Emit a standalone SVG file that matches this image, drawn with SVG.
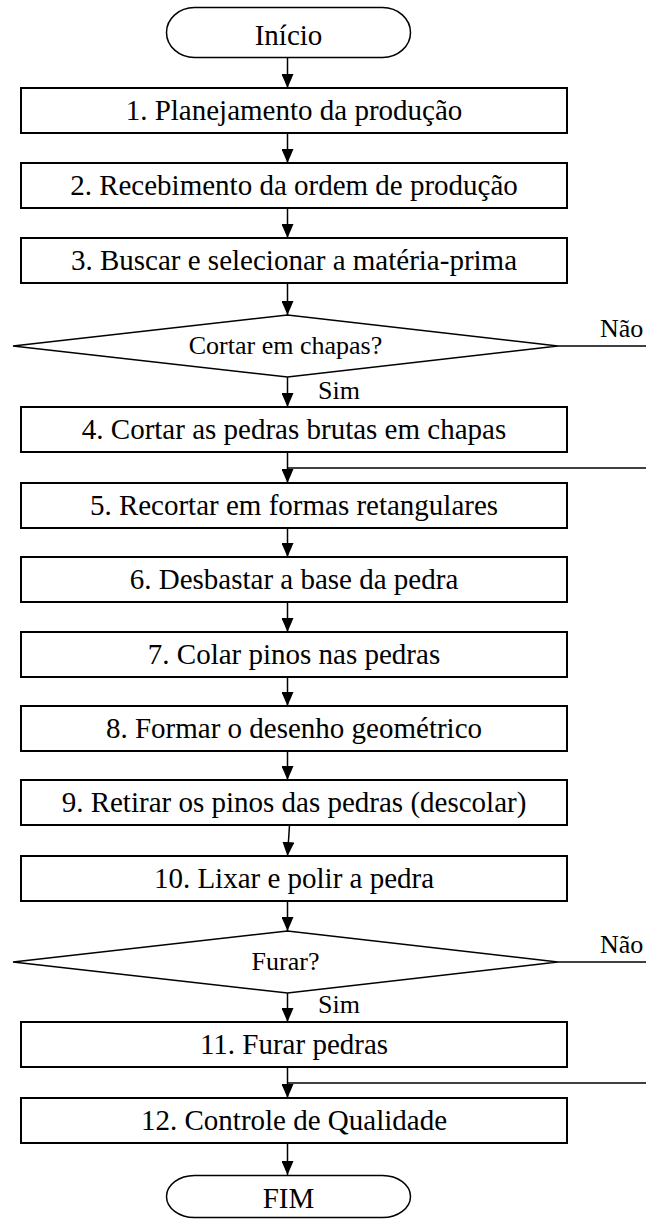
<svg xmlns="http://www.w3.org/2000/svg" width="646" height="1219" viewBox="0 0 646 1219" font-family="'Liberation Serif', 'Times New Roman', 'DejaVu Serif', serif">
<style>
.box{fill:#fff;stroke:#000;stroke-width:2}
.dia{fill:#fff;stroke:#000;stroke-width:1.5}
.term{fill:#fff;stroke:#000;stroke-width:1.5}
text{font-family:'Liberation Serif','Times New Roman','DejaVu Serif',serif;fill:#000}
.t{font-size:29px;text-anchor:middle}
.s{font-size:26px}
.c{fill:none;stroke:#000;stroke-width:1.5}
</style>
<defs>
<marker id="ah" markerUnits="userSpaceOnUse" markerWidth="14" markerHeight="12" refX="14" refY="6" orient="auto">
<path d="M0,0 L14,6 L0,12 z" fill="#000"/>
</marker>
</defs>
<g id="connectors">
<line class="c" x1="287.5" y1="58" x2="287.5" y2="88" marker-end="url(#ah)"/>
<line class="c" x1="287.5" y1="133" x2="287.5" y2="163" marker-end="url(#ah)"/>
<line class="c" x1="287.5" y1="208" x2="287.5" y2="238" marker-end="url(#ah)"/>
<line class="c" x1="287.5" y1="283" x2="287.5" y2="315" marker-end="url(#ah)"/>
<line class="c" x1="287.5" y1="377" x2="287.5" y2="407" marker-end="url(#ah)"/>
<line class="c" x1="287.5" y1="452" x2="287.5" y2="483" marker-end="url(#ah)"/>
<line class="c" x1="287.5" y1="528" x2="287.5" y2="557" marker-end="url(#ah)"/>
<line class="c" x1="287.5" y1="602" x2="287.5" y2="632" marker-end="url(#ah)"/>
<line class="c" x1="287.5" y1="677" x2="287.5" y2="706" marker-end="url(#ah)"/>
<line class="c" x1="287.5" y1="751" x2="287.5" y2="780" marker-end="url(#ah)"/>
<line class="c" x1="289.5" y1="825" x2="287.5" y2="856" marker-end="url(#ah)"/>
<line class="c" x1="287.5" y1="901" x2="287.5" y2="931" marker-end="url(#ah)"/>
<line class="c" x1="287.5" y1="993" x2="287.5" y2="1022" marker-end="url(#ah)"/>
<line class="c" x1="287.5" y1="1067" x2="287.5" y2="1098" marker-end="url(#ah)"/>
<line class="c" x1="287.5" y1="1143" x2="287.5" y2="1175" marker-end="url(#ah)"/>
<line class="c" x1="558" y1="346" x2="646" y2="346"/>
<line class="c" x1="287.5" y1="468" x2="646" y2="468"/>
<line class="c" x1="558" y1="962" x2="646" y2="962"/>
<line class="c" x1="287.5" y1="1083" x2="646" y2="1083"/>
<text class="s" x="600" y="337">Não</text>
<text class="s" x="318" y="399">Sim</text>
<text class="s" x="600" y="953">Não</text>
<text class="s" x="318" y="1013">Sim</text>
</g>
<g id="inicio"><rect class="term" x="166.5" y="7.5" width="244" height="50" rx="28" ry="25"/><text class="t" x="288.5" y="45">Início</text></g>
<g id="n1"><rect class="box" x="21" y="88" width="546" height="45"/><text class="t" x="294" y="120">1. Planejamento da produção</text></g>
<g id="n2"><rect class="box" x="21" y="163" width="546" height="45"/><text class="t" x="294" y="195">2. Recebimento da ordem de produção</text></g>
<g id="n3"><rect class="box" x="21" y="238" width="546" height="45"/><text class="t" x="294" y="270">3. Buscar e selecionar a matéria-prima</text></g>
<g id="d1"><polygon class="dia" points="13,346 287.5,315 558,346 287.5,377"/><text class="s" x="285.5" y="354" text-anchor="middle">Cortar em chapas?</text></g>
<g id="n4"><rect class="box" x="21" y="407" width="546" height="45"/><text class="t" x="294" y="439">4. Cortar as pedras brutas em chapas</text></g>
<g id="n5"><rect class="box" x="21" y="483" width="546" height="45"/><text class="t" x="294" y="515">5. Recortar em formas retangulares</text></g>
<g id="n6"><rect class="box" x="21" y="557" width="546" height="45"/><text class="t" x="294" y="589">6. Desbastar a base da pedra</text></g>
<g id="n7"><rect class="box" x="21" y="632" width="546" height="45"/><text class="t" x="294" y="664">7. Colar pinos nas pedras</text></g>
<g id="n8"><rect class="box" x="21" y="706" width="546" height="45"/><text class="t" x="294" y="738">8. Formar o desenho geométrico</text></g>
<g id="n9"><rect class="box" x="21" y="780" width="546" height="45"/><text class="t" x="294" y="812">9. Retirar os pinos das pedras (descolar)</text></g>
<g id="n10"><rect class="box" x="21" y="856" width="546" height="45"/><text class="t" x="294" y="888">10. Lixar e polir a pedra</text></g>
<g id="d2"><polygon class="dia" points="13,962 287.5,931 558,962 287.5,993"/><text class="s" x="285.5" y="970" text-anchor="middle">Furar?</text></g>
<g id="n11"><rect class="box" x="21" y="1022" width="546" height="45"/><text class="t" x="294" y="1054">11. Furar pedras</text></g>
<g id="n12"><rect class="box" x="21" y="1098" width="546" height="45"/><text class="t" x="294" y="1130">12. Controle de Qualidade</text></g>
<g id="fim"><rect class="term" x="166.5" y="1175.5" width="244" height="42" rx="28" ry="21"/><text class="t" x="288.5" y="1208">FIM</text></g>
</svg>
